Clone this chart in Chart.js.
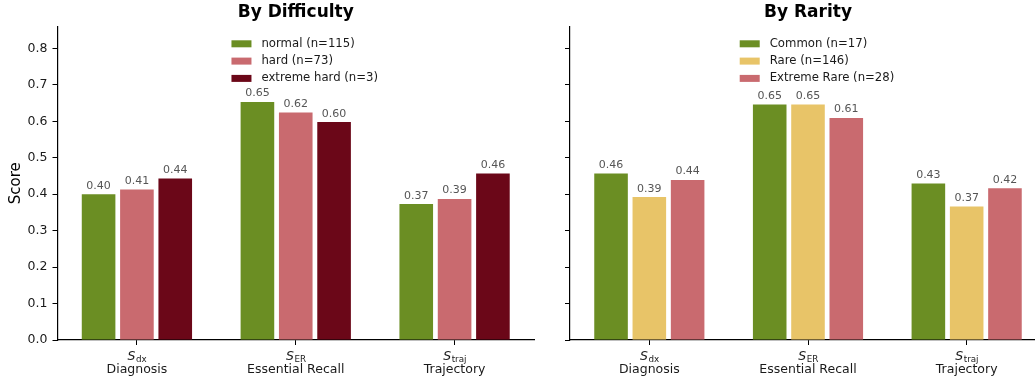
<!DOCTYPE html>
<html>
<head>
<meta charset="utf-8">
<title>Scores by difficulty and rarity</title>
<script src="https://cdn.jsdelivr.net/npm/chart.js@4"></script>
<style>
  html, body { margin: 0; padding: 0; background: #fff; overflow: hidden; width: 1035px; height: 385px; }
  #wrap { position: relative; width: 1035px; height: 385px; overflow: hidden; }
  canvas { position: absolute; top: 0; }
  #difficulty { left: 0; }
  #rarity { left: 545px; }
</style>
</head>
<body>
<div id="wrap">
  <canvas id="difficulty" width="545" height="385"></canvas>
  <canvas id="rarity" width="501" height="385"></canvas>
</div>
<script>
// Metrics shown on the x axis
const metricSymbols = ['dx', 'ER', 'traj'];
const metricNames = ['Diagnosis', 'Essential Recall', 'Trajectory'];

// Scores split by case difficulty
const difficultyLabels = ['normal (n=115)', 'hard (n=73)', 'extreme hard (n=3)'];
const normalScores = [0.400, 0.653, 0.373];
const hardScores = [0.413, 0.624, 0.387];
const extremeHardScores = [0.443, 0.598, 0.457];

// Scores split by disease rarity
const rarityLabels = ['Common (n=17)', 'Rare (n=146)', 'Extreme Rare (n=28)'];
const commonScores = [0.457, 0.646, 0.429];
const rareScores = [0.392, 0.646, 0.366];
const extremeRareScores = [0.439, 0.609, 0.416];

// Shared y axis
const yTicks = [0.0, 0.1, 0.2, 0.3, 0.4, 0.5, 0.6, 0.7, 0.8];
const yMax = 0.86;

const GREEN = '#6B8E23', PINK = '#C96A6F', MAROON = '#6B0718', GOLD = '#E8C468';

Chart.defaults.font.family = '"DejaVu Sans", sans-serif';
Chart.defaults.color = '#1a1a1a';

const TICK_LEN = 5, X_PAD = 4, X_LINE = 14, X_FONT = 12.5;

// Bold panel heading centred over the plotting area
const panelTitle = {
  id: 'panelTitle',
  afterDraw(chart, args, opts) {
    const { ctx, chartArea } = chart;
    ctx.save();
    ctx.font = 'bold 17px "DejaVu Sans"';
    ctx.fillStyle = '#000';
    ctx.textAlign = 'center';
    ctx.textBaseline = 'alphabetic';
    ctx.fillText(opts.text, (chartArea.left + chartArea.right) / 2, 17);
    ctx.restore();
  }
};

// Numeric value above each bar
const valueLabels = {
  id: 'valueLabels',
  afterDatasetsDraw(chart) {
    const { ctx } = chart;
    ctx.save();
    ctx.font = '11px "DejaVu Sans"';
    ctx.fillStyle = '#555';
    ctx.textAlign = 'center';
    ctx.textBaseline = 'alphabetic';
    chart.data.datasets.forEach((ds, di) => {
      chart.getDatasetMeta(di).data.forEach((bar, i) => {
        ctx.fillText(ds.data[i].toFixed(2), bar.x, bar.y - 5.5);
      });
    });
    ctx.restore();
  }
};

// Frameless legend at the top centre of the plotting area
const boxLegend = {
  id: 'boxLegend',
  afterDraw(chart) {
    const { ctx, chartArea } = chart;
    const sets = chart.data.datasets;
    ctx.save();
    ctx.font = '11.7px "DejaVu Sans"';
    const maxW = Math.max(...sets.map(d => ctx.measureText(d.label).width));
    const boxW = 20, boxH = 7, gap = 10, rowH = 17.3;
    const x0 = (chartArea.left + chartArea.right) / 2 - (boxW + gap + maxW) / 2 + 9;
    sets.forEach((d, i) => {
      const cy = chartArea.top + 17.3 + i * rowH;
      ctx.fillStyle = d.backgroundColor;
      ctx.fillRect(x0, cy - boxH / 2, boxW, boxH);
      ctx.fillStyle = '#1a1a1a';
      ctx.textAlign = 'left';
      ctx.textBaseline = 'middle';
      ctx.fillText(d.label, x0 + boxW + gap, cy);
    });
    ctx.restore();
  }
};

// First line of each x label: italic S with an upright subscript
const mathTicks = {
  id: 'mathTicks',
  afterDraw(chart) {
    const { ctx } = chart;
    const s = chart.scales.x;
    const base = s.top + TICK_LEN + X_PAD + X_LINE / 2 + 0.3 * X_FONT;
    ctx.save();
    ctx.fillStyle = '#1a1a1a';
    ctx.textBaseline = 'alphabetic';
    ctx.textAlign = 'left';
    s.ticks.forEach((t, i) => {
      const x = s.getPixelForTick(i);
      const sub = metricSymbols[i];
      ctx.font = 'italic ' + X_FONT + 'px "DejaVu Sans"';
      const wS = ctx.measureText('S').width;
      ctx.font = (X_FONT * 0.7) + 'px "DejaVu Sans"';
      const wSub = ctx.measureText(sub).width;
      const start = x - (wS + wSub) / 2;
      ctx.font = 'italic ' + X_FONT + 'px "DejaVu Sans"';
      ctx.fillText('S', start, base);
      ctx.font = (X_FONT * 0.7) + 'px "DejaVu Sans"';
      ctx.fillText(sub, start + wS + 0.5, base + 2.6);
    });
    ctx.restore();
  }
};

function makeChart(canvasId, title, labels, series, colors, showY, yWidth, padRight) {
  return new Chart(document.getElementById(canvasId), {
    type: 'bar',
    data: {
      labels: metricNames,
      datasets: series.map((data, i) => ({
        label: labels[i],
        data,
        backgroundColor: colors[i],
        borderWidth: 0,
        categoryPercentage: 0.724,
        barPercentage: 0.877
      }))
    },
    options: {
      responsive: false,
      animation: false,
      events: [],
      layout: { padding: { top: 26.5, right: padRight, bottom: 0, left: 0 } },
      plugins: {
        legend: { display: false },
        tooltip: { enabled: false },
        panelTitle: { text: title }
      },
      scales: {
        x: {
          offset: true,
          grid: { display: true, offset: false, drawOnChartArea: false, drawTicks: true, tickLength: TICK_LEN, color: '#000', lineWidth: 1 },
          border: { display: true, color: '#000', width: 1.2 },
          ticks: {
            padding: X_PAD,
            color: '#1a1a1a',
            font: { size: X_FONT, lineHeight: X_LINE / X_FONT },
            maxRotation: 0,
            autoSkip: false,
            callback: (v, i) => ['', metricNames[i]]
          },
          afterFit: s => { s.height = 45; }
        },
        y: {
          min: 0,
          max: yMax,
          afterBuildTicks: s => { s.ticks = yTicks.map(v => ({ value: v })); },
          grid: { display: true, drawOnChartArea: false, drawTicks: true, tickLength: TICK_LEN, color: '#000', lineWidth: 1 },
          border: { display: true, color: '#000', width: 1.2 },
          ticks: {
            display: showY,
            padding: 5,
            color: '#1a1a1a',
            font: { size: 12.5 },
            callback: v => v.toFixed(1)
          },
          title: {
            display: showY,
            text: 'Score',
            color: '#000',
            font: { size: 15 },
            padding: { top: 7, bottom: 0 }
          },
          afterFit: s => { s.width = yWidth; }
        }
      }
    },
    plugins: [panelTitle, valueLabels, boxLegend, mathTicks]
  });
}

makeChart('difficulty', 'By Difficulty', difficultyLabels,
  [normalScores, hardScores, extremeHardScores], [GREEN, PINK, MAROON], true, 57.5, 11);
makeChart('rarity', 'By Rarity', rarityLabels,
  [commonScores, rareScores, extremeRareScores], [GREEN, GOLD, PINK], false, 25, 0);
</script>
</body>
</html>
